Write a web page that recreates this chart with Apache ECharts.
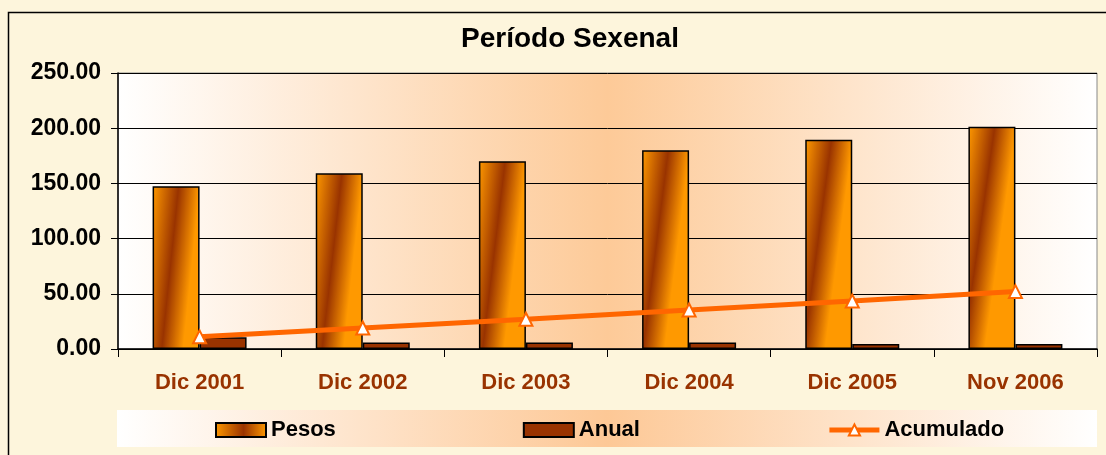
<!DOCTYPE html>
<html>
<head>
<meta charset="utf-8">
<script src="https://cdn.jsdelivr.net/npm/echarts@6/dist/echarts.min.js"></script>
<style>
  html, body { margin: 0; padding: 0; background: #fdf5dc; }
  #chart { width: 1106px; height: 455px; }
</style>
</head>
<body>
<div id="chart"></div>
<script>
'use strict';

const categories = ['Dic 2001', 'Dic 2002', 'Dic 2003', 'Dic 2004', 'Dic 2005', 'Nov 2006'];
const pesos = [147.5, 159.1, 170.0, 180.0, 189.6, 201.4];
const anual = [10.6, 6.0, 6.0, 6.0, 4.5, 4.5];
const acumulado = [11, 19, 27, 35.3, 43.5, 52];
const yTicks = { min: 0, max: 250, interval: 50 };

// white -> peach -> white, used for the plot and the legend band
const peach = (c) => ({
    type: 'linear', x: 0, y: 0, x2: 1, y2: 0,
    colorStops: [
        { offset: 0, color: '#ffffff' },
        { offset: 0.5, color: c },
        { offset: 1, color: '#ffffff' }
    ]
});

const pesosFill = {
    type: 'linear', x: 0, y: 0, x2: 1, y2: 0.03,
    colorStops: [
        { offset: 0, color: '#ff9900' },
        { offset: 0.55, color: '#993300' },
        { offset: 1, color: '#ff9900' }
    ]
};

const chart = echarts.init(document.getElementById('chart'));

chart.setOption({
    animation: false,
    backgroundColor: '#fdf5dc',
    textStyle: { fontFamily: 'Liberation Sans, Arial, sans-serif' },
    title: {
        text: 'Período Sexenal',
        left: 565,
        textAlign: 'center',
        top: 20,
        textStyle: { fontSize: 28, fontWeight: 'bold', color: '#000' }
    },
    graphic: [
        {
            type: 'rect', z: -10,
            shape: { x: 8.5, y: 12.5, width: 1110, height: 460 },
            style: { fill: 'none', stroke: '#000', lineWidth: 1.5 }
        },
        {
            type: 'rect', z: -5,
            shape: { x: 117, y: 410, width: 980, height: 37 },
            style: { fill: peach('#fdc896') }
        }
    ],
    legend: {
        left: 210,
        top: 414,
        itemWidth: 50,
        itemHeight: 14,
        itemGap: 187,
        textStyle: { fontSize: 22, fontWeight: 'bold', color: '#000' },
        data: [
            { name: 'Pesos', icon: 'rect' },
            { name: 'Anual', icon: 'rect' },
            { name: 'Acumulado', lineStyle: { width: 5, color: '#ff6600' } }
        ]
    },
    grid: {
        left: 118, right: 9, top: 73, bottom: 106,
        show: true,
        backgroundColor: peach('#fdca98'),
        borderColor: '#888',
        borderWidth: 1
    },
    xAxis: {
        type: 'category',
        data: categories,
        axisLine: { lineStyle: { color: '#000', width: 1.5 } },
        axisTick: { show: true, length: 8, lineStyle: { color: '#000' } },
        axisLabel: { fontSize: 22, fontWeight: 'bold', color: '#993300', margin: 23 }
    },
    yAxis: {
        type: 'value',
        min: yTicks.min,
        max: yTicks.max,
        interval: yTicks.interval,
        axisLine: { show: true, lineStyle: { color: '#000', width: 1.5 } },
        axisTick: { show: true, length: 7, lineStyle: { color: '#000' } },
        splitLine: { lineStyle: { color: '#000', width: 1 } },
        axisLabel: {
            fontSize: 23, fontWeight: 'bold', color: '#000', margin: 17,
            formatter: (v) => v.toFixed(2)
        }
    },
    series: [
        {
            name: 'Pesos',
            type: 'bar',
            data: pesos,
            barWidth: 47,
            barGap: '0%',
            itemStyle: { color: pesosFill, borderColor: '#000', borderWidth: 1.5 }
        },
        {
            name: 'Anual',
            type: 'bar',
            data: anual,
            barWidth: 47,
            barGap: '0%',
            itemStyle: { color: '#993300', borderColor: '#000', borderWidth: 1.5 }
        },
        {
            name: 'Acumulado',
            type: 'line',
            data: acumulado,
            z: 5,
            symbol: 'triangle',
            symbolSize: 13,
            lineStyle: { color: '#ff6600', width: 5 },
            itemStyle: { color: '#ffffff', borderColor: '#ff6600', borderWidth: 2 }
        }
    ]
});
</script>
</body>
</html>
